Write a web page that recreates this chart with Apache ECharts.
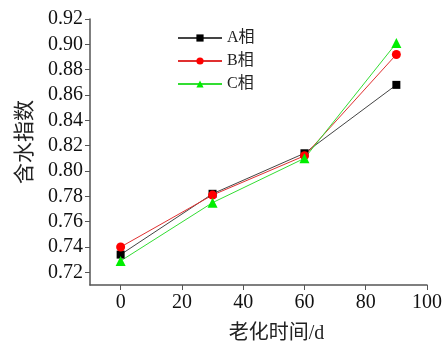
<!DOCTYPE html>
<html><head><meta charset="utf-8">
<script src="https://cdn.jsdelivr.net/npm/echarts@6/dist/echarts.min.js"></script>
<style>html,body{margin:0;padding:0;background:#fff}#c{width:445px;height:341px}</style>
</head><body><div id="c"></div>
<script>
const days = [0, 30, 60, 90];
const seriesA = [0.734, 0.782, 0.814, 0.868];
const seriesB = [0.740, 0.781, 0.812, 0.892];
const seriesC = [0.729, 0.775, 0.810, 0.901];
const names = ['A相', 'B相', 'C相'];
const xTicks = [0, 20, 40, 60, 80, 100];
const yTicks = [0.72,0.74,0.76,0.78,0.80,0.82,0.84,0.86,0.88,0.90,0.92];

const font = '"Liberation Serif", "Times New Roman", serif';
const cjk = '"Liberation Serif", "Noto Sans CJK SC", serif';
const axisCol = '#555';
function pts(v){ return days.map((d,i)=>[d, v[i]]); }
const chart = echarts.init(document.getElementById('c'));
chart.setOption({
  animation: false,
  backgroundColor: '#fff',
  grid: {left: 90, right: 18, top: 19, bottom: 56, containLabel: false, outerBoundsMode: 'none'},
  legend: {
    left: 172, top: 25, orient: 'vertical', itemGap: 7, itemWidth: 44, itemHeight: 9,
    textStyle: {fontFamily: cjk, fontSize: 16, color: '#222'},
    data: names
  },
  xAxis: {
    type: 'value', min: -10, max: 100,
    name: '老化时间/d', nameLocation: 'middle', nameGap: 39,
    nameTextStyle: {fontFamily: cjk, fontSize: 20, color: '#222', padding: [0,0,0,36]},
    axisLine: {show: true, onZero: false, lineStyle: {color: axisCol, width: 1.5}},
    axisTick: {show: true, length: 5, lineStyle: {color: axisCol}, customValues: xTicks},
    splitLine: {show: false},
    axisLabel: {fontFamily: font, fontSize: 20, color: '#111', margin: 8, customValues: xTicks,
      formatter: v => String(v)}
  },
  yAxis: {
    type: 'value', min: 0.71, max: 0.92,
    name: '含水指数', nameLocation: 'middle', nameGap: 54,
    nameTextStyle: {fontFamily: cjk, fontSize: 21, color: '#222', padding: [0,0,0,20]},
    axisLine: {show: true, onZero: false, lineStyle: {color: axisCol, width: 1.5}},
    axisTick: {show: true, length: 5, lineStyle: {color: axisCol}, customValues: yTicks},
    splitLine: {show: false},
    axisLabel: {fontFamily: font, fontSize: 20, color: '#111', margin: 7,
      customValues: yTicks,
      formatter: v => v.toFixed(2)}
  },
  series: [
    {name: names[0], type: 'line', data: pts(seriesA), symbol: 'rect', symbolSize: 8,
      itemStyle: {color: '#000'}, lineStyle: {color: '#444', width: 1}},
    {name: names[1], type: 'line', data: pts(seriesB), symbol: 'circle', symbolSize: 9,
      itemStyle: {color: '#ff0000'}, lineStyle: {color: '#e03030', width: 1}},
    {name: names[2], type: 'line', data: pts(seriesC), symbol: 'triangle', symbolSize: 10,
      itemStyle: {color: '#00ee00'}, lineStyle: {color: '#33dd33', width: 1}}
  ]
});
</script></body></html>
